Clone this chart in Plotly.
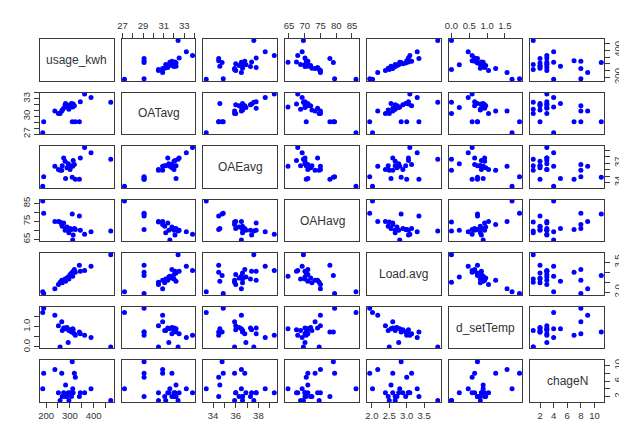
import plotly.graph_objects as go
from plotly.subplots import make_subplots

var_names = ["usage_kwh", "OATavg", "OAEavg", "OAHavg", "Load.avg", "d_setTemp", "chageN"]

usage_kwh = [186, 190, 237, 252, 259, 266, 268, 274, 280, 282, 288, 293, 296, 301, 307,
             310, 312, 314, 319, 323, 340, 344, 362, 389, 472]
OATavg = [27.2, 29.1, 30.9, 30.5, 30.5, 30.9, 31.1, 31.4, 32.0, 32.2, 31.8, 31.5, 31.2, 32.0, 32.2,
          29.1, 31.6, 32.1, 31.8, 29.1, 29.1, 32.5, 33.8, 33.2, 32.4]
OAEavg = [33.4, 34.9, 36.5, 36.0, 35.9, 35.9, 36.6, 37.8, 37.3, 34.6, 36.3, 36.9, 36.6, 36.0, 36.6,
          34.8, 36.5, 37.4, 36.8, 34.5, 34.5, 37.8, 39.4, 38.6, 37.6]
OAHavg = [86.3, 79.5, 75.0, 75.0, 74.6, 73.3, 72.3, 74.1, 70.1, 71.0, 71.9, 70.1, 68.7, 71.0, 70.5,
          79.1, 64.7, 67.4, 71.0, 70.5, 78.0, 70.1, 67.8, 69.2, 69.6]
Load_avg = [2.02, 1.94, 2.17, 2.39, 2.50, 2.60, 2.47, 2.60, 2.67, 2.55, 2.72, 2.77, 2.67, 2.89, 2.97,
            2.84, 2.80, 3.05, 3.14, 3.00, 3.35, 3.05, 3.09, 3.30, 3.89]
d_setTemp = [1.70, 1.91, 1.56, 1.04, 0.0, 1.24, 0.81, 0.93, 0.93, 0.89, 0.96, 0.22, 0.81, 0.84, 0.73,
             0.73, 0.89, 0.84, 0.65, 0.58, 0.73, 0.65, 0.58, 0.47, 0.0]
chageN = [4, 8, 9, 3, 1, 8, 2, 3, 2, 5, 2, 3, 1, 3, 2, 11, 4, 3, 8, 7, 2, 3, 3, 4, 1]

data = [usage_kwh, OATavg, OAEavg, OAHavg, Load_avg, d_setTemp, chageN]

# tick positions and the labels that are shown on the outer sides
x_tickvals = [[200, 250, 300, 350, 400, 450], [27, 28, 29, 30, 31, 32, 33, 34], [34, 35, 36, 37, 38, 39],
              [65, 70, 75, 80, 85], [2.0, 2.5, 3.0, 3.5], [0.0, 0.5, 1.0, 1.5], [2, 4, 6, 8, 10]]
x_ticktext = [["200", "", "300", "", "400", ""], ["27", "", "29", "", "31", "", "33", ""],
              ["34", "", "36", "", "38", ""], ["65", "70", "75", "80", "85"],
              ["2.0", "2.5", "3.0", "3.5"], ["0.0", "0.5", "1.0", "1.5"], ["2", "4", "6", "8", "10"]]
y_tickvals = [[200, 250, 300, 350, 400, 450], [27, 28, 29, 30, 31, 32, 33, 34], [34, 35, 36, 37, 38, 39],
              [65, 70, 75, 80, 85], [2.0, 2.5, 3.0, 3.5], [0.0, 0.5, 1.0, 1.5], [2, 4, 6, 8, 10]]
y_ticktext = [["200", "", "", "", "400", ""], ["27", "", "", "30", "", "", "33", ""],
              ["34", "", "", "37", "", ""], ["65", "", "75", "", "85"],
              ["2.0", "", "", "3.5"], ["0.0", "", "1.0", ""], ["2", "", "6", "", "10"]]

n = len(var_names)
ranges = []
for v in data:
    lo, hi = min(v), max(v)
    pad = 0.04 * (hi - lo)
    ranges.append([lo - pad, hi + pad])

fig = make_subplots(rows=n, cols=n, horizontal_spacing=0.01462, vertical_spacing=0.03207)

for i in range(n):
    for j in range(n):
        if i != j:
            fig.add_trace(go.Scatter(x=data[j], y=data[i], mode="markers",
                                     marker=dict(color="#0000FF", size=5, line=dict(width=0)),
                                     showlegend=False, hoverinfo="skip"),
                          row=i + 1, col=j + 1)
        else:
            # empty trace so the diagonal panel (frame + name) is drawn
            fig.add_trace(go.Scatter(x=[None], y=[None], mode="markers",
                                     showlegend=False, hoverinfo="skip"),
                          row=i + 1, col=j + 1)

narrow = "Liberation Sans Narrow, Arial Narrow, Liberation Sans, Arial"
tick_font = dict(family=narrow, size=9.5, color="#333333")
frame = dict(showline=True, mirror=True, linecolor="#3a3a3a", linewidth=1,
             showgrid=False, zeroline=False)

for i in range(n):
    for j in range(n):
        idx = i * n + j + 1
        xa = "xaxis" if idx == 1 else f"xaxis{idx}"
        ya = "yaxis" if idx == 1 else f"yaxis{idx}"
        xcfg = dict(frame, range=ranges[j], fixedrange=True)
        ycfg = dict(frame, range=ranges[i], fixedrange=True)
        show_x = (j % 2 == 0 and i == n - 1) or (j % 2 == 1 and i == 0)
        if show_x:
            xcfg.update(side="bottom" if i == n - 1 else "top", ticks="outside", ticklen=5,
                        tickcolor="#3a3a3a", tickvals=x_tickvals[j], ticktext=x_ticktext[j],
                        showticklabels=True, tickfont=tick_font)
        else:
            xcfg.update(showticklabels=False, ticks="")
        show_y = (i % 2 == 0 and j == n - 1) or (i % 2 == 1 and j == 0)
        if show_y:
            ycfg.update(side="right" if j == n - 1 else "left", ticks="outside", ticklen=5,
                        tickcolor="#3a3a3a", tickvals=y_tickvals[i], ticktext=y_ticktext[i],
                        showticklabels=True, tickfont=tick_font, tickangle=-90)
        else:
            ycfg.update(showticklabels=False, ticks="")
        fig.layout[xa].update(xcfg)
        fig.layout[ya].update(ycfg)

for k in range(n):
    idx = k * n + k + 1
    xr = "x" if idx == 1 else f"x{idx}"
    yr = "y" if idx == 1 else f"y{idx}"
    fig.add_annotation(text=var_names[k], x=0.5, y=0.5, xref=f"{xr} domain", yref=f"{yr} domain",
                       showarrow=False, font=dict(family=narrow, size=12, color="#333333"))

fig.update_layout(width=627, height=425, margin=dict(l=32, r=28, t=29, b=28),
                  paper_bgcolor="white", plot_bgcolor="white", showlegend=False)

fig.write_html("out.html")
